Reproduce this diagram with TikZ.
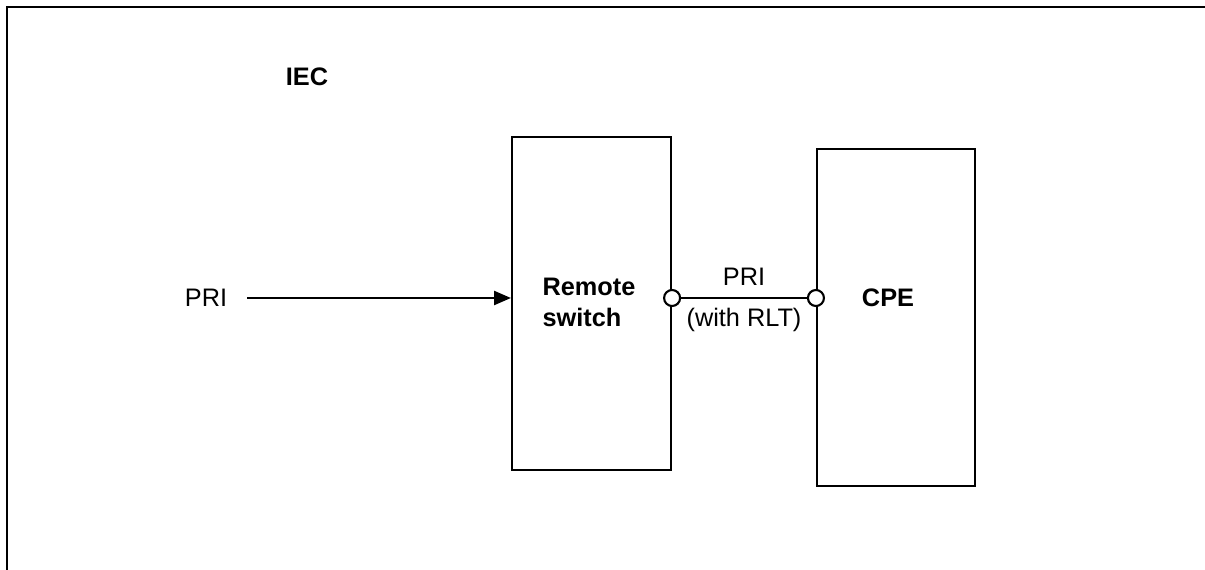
\documentclass[tikz,border=0pt]{standalone}
\usepackage{fontspec}
\setmainfont{Liberation Sans}
\usetikzlibrary{positioning,arrows.meta}

\begin{document}
\begin{tikzpicture}[
  x=0.025cm, y=-0.025cm,
  every node/.style={font=\fontsize{18}{22}\selectfont},
  unit/.style={draw, line width=1.5pt, inner sep=0pt},
  port/.style={circle, draw, line width=1.5pt, fill=white, minimum size=0.4cm, inner sep=0pt},
  arr/.style={-{Triangle[length=12pt, width=10pt]}, line width=1.5pt},
  wire/.style={line width=1.5pt},
]
\useasboundingbox (0,0) rectangle (1205,570);

% Frame
\draw[line width=1.4pt] (7,570) -- (7,7) -- (1205,7);

% Title
\node[font=\fontsize{18}{22}\selectfont\bfseries] (iec) at (307,77) {IEC};

% Boxes
\node[unit, minimum width=3.975cm, minimum height=8.325cm] (rs) at (591.5,303.5) {};
\node[unit, minimum width=3.95cm, minimum height=8.425cm] (cpe) at (896,317.5) {};
\node[font=\fontsize{18}{22}\selectfont\bfseries, align=left] (rslbl) at (589,302) {Remote\\switch};
\node[font=\fontsize{18}{22}\selectfont\bfseries] (cpelbl) at (888,298) {CPE};

% Incoming PRI
\node (pri) at (206,298) {PRI};
\coordinate (pristart) at (247,298);
\draw[arr] (pristart) -- (pristart -| rs.west);

% PRI link with RLT
\node[port] (prl) at (rs.east |- pri) {};
\node[port] (prr) at (cpe.west |- pri) {};
\draw[wire] (prl) -- (prr);
\node (linktop) at (744,277) {PRI};
\node (linkbot) at (744,320) {(with RLT)};

\end{tikzpicture}
\end{document}
